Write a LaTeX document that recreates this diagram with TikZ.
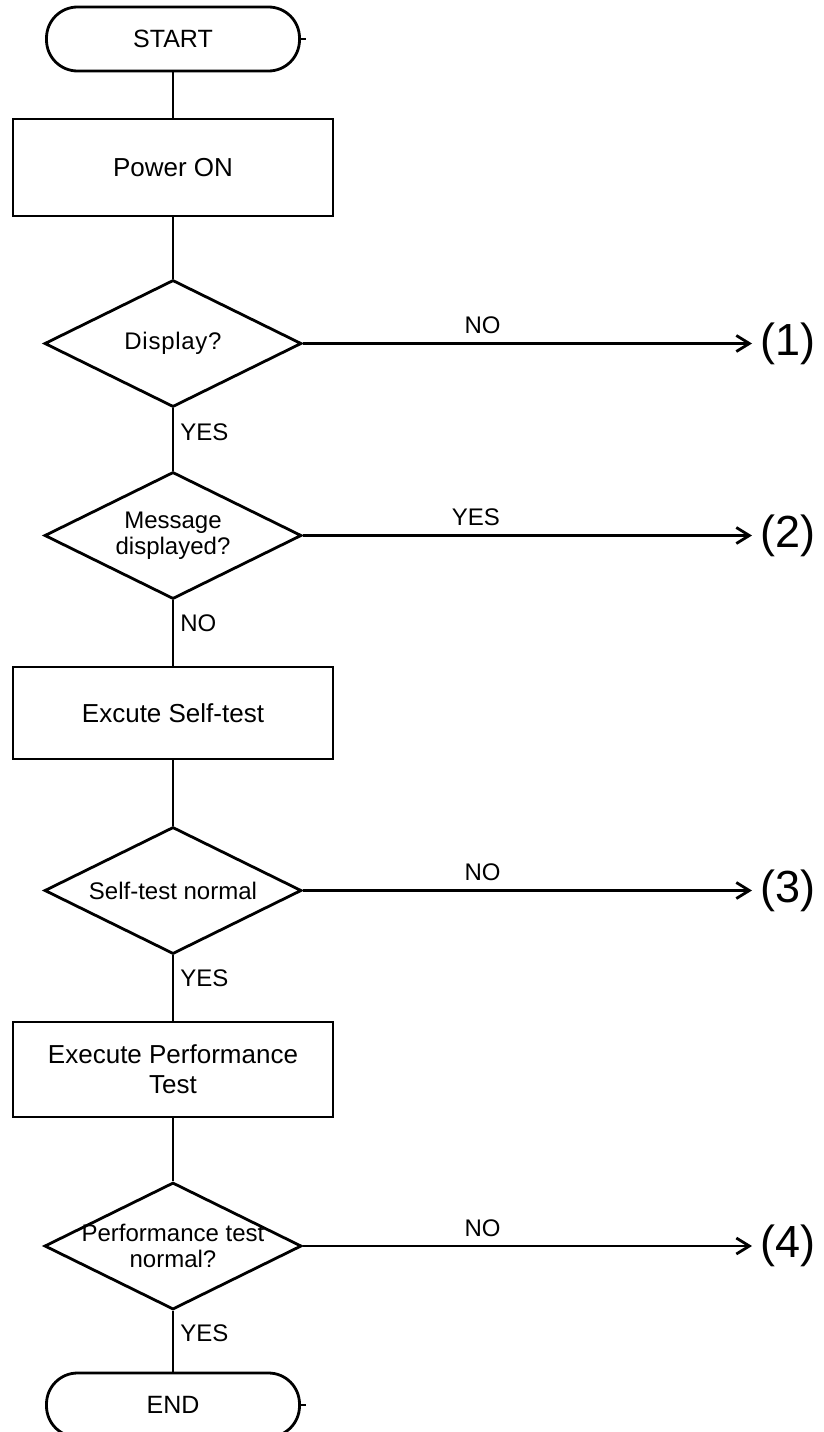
\documentclass[tikz,border=0pt]{standalone}
\usepackage{fontspec}
\setmainfont{Liberation Sans}
\usetikzlibrary{arrows.meta,positioning,shapes.geometric}
\tikzset{
  term/.style     = {draw, line width=2.8pt, rounded corners=31pt, minimum width=253pt,
                     minimum height=64pt, font=\fontsize{25}{30}\selectfont},
  proc/.style     = {draw, line width=2.8pt, minimum width=320pt, align=center,
                     font=\fontsize{26}{30}\selectfont},
  decision/.style = {diamond, draw, line width=2.8pt, aspect=2, inner sep=-8pt,
                     minimum width=257pt, minimum height=127pt, align=center,
                     font=\fontsize{24}{26}\selectfont},
  wire/.style     = {line width=2.8pt},
  flow/.style     = {line width=2.8pt, -{Straight Barb[length=13pt,width=16pt]}},
  lbl/.style      = {font=\fontsize{24}{26}\selectfont, inner sep=6pt},
  outlbl/.style   = {font=\fontsize{45}{50}\selectfont, inner sep=8pt, anchor=west},
}
\begin{document}
\begin{tikzpicture}[x=1pt,y=-1pt]
  \path[use as bounding box, fill=white] (0,0) rectangle (823,1432);
  % main column
  \node[term] (start) at (173,39) {START};
  \node[proc, minimum height=97pt] (pwr) at (173,167.5) {Power ON};
  \node[decision] (disp) at (173,343.5) {\addfontfeature{LetterSpace=3}Display?};
  \node[decision] (msg) at (173,535.5) {Message\\displayed?};
  \node[proc, minimum height=92pt] (self) at (173,713) {Excute Self-test};
  \node[decision] (selfok) at (173,890.5) {Self-test normal};
  \node[proc, minimum height=95pt] (perf) at (173,1069.5) {Execute Performance\\Test};
  \node[decision] (perfok) at (173,1246) {Performance test\\normal?};
  \node[term] (stop) at (173,1405) {END};
  % exits
  \node[outlbl] (x1) at (752,343.5) {(1)};
  \node[outlbl] (x2) at (752,535.5) {(2)};
  \node[outlbl] (x3) at (752,890.5) {(3)};
  \node[outlbl] (x4) at (752,1246) {(4)};

  \draw[wire] (start) -- (pwr);
  \draw[wire] (pwr) -- (disp);
  \draw[wire] (disp) -- node[lbl,right,pos=.38]{YES} (msg);
  \draw[wire] (msg) -- node[lbl,right,pos=.35]{NO} (self);
  \draw[wire] (self) -- (selfok);
  \draw[wire] (selfok) -- node[lbl,right,pos=.35]{YES} (perf);
  \draw[wire] (perf) -- (perfok);
  \draw[wire] (perfok) -- node[lbl,right,pos=.37]{YES} (stop);
  \draw[wire] (start.east) -- ++(5,0);
  \draw[wire] (stop.east) -- ++(5,0);

  \draw[flow] (disp) -- node[lbl,above=2pt,pos=.4]{NO} (x1);
  \draw[flow] (msg) -- node[lbl,above=2pt,pos=.385]{YES} (x2);
  \draw[flow] (selfok) -- node[lbl,above=2pt,pos=.4]{NO} (x3);
  \draw[flow] (perfok) -- node[lbl,above=2pt,pos=.4]{NO} (x4);
\end{tikzpicture}
\end{document}
